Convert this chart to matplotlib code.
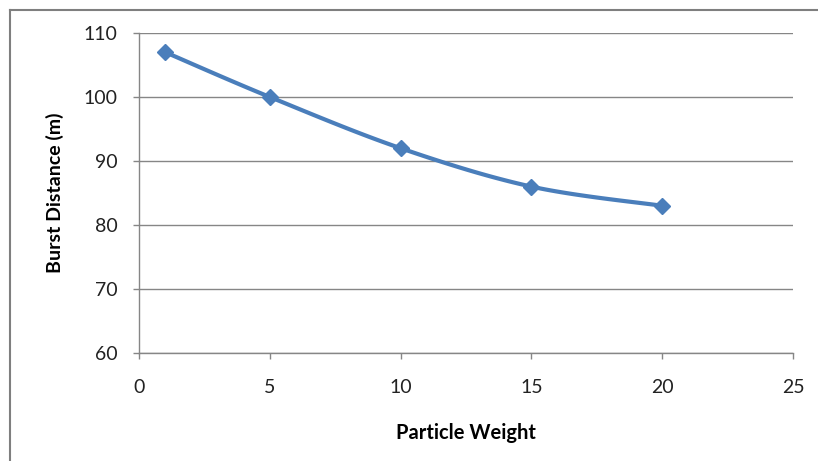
import numpy as np
import matplotlib.pyplot as plt
from matplotlib.lines import Line2D

weight = [1, 5, 10, 15, 20]
burst = [107, 100, 92, 86, 83]

x_ticks = [0, 5, 10, 15, 20, 25]
y_ticks = [60, 70, 80, 90, 100, 110]

blue = '#4A7EBB'
gray = '#868686'


def smooth(xs, ys, n=30):
    # catmull-rom through the points, like excel's smoothed line
    p = np.column_stack([xs, ys]).astype(float)
    p = np.vstack([p[0], p, p[-1]])
    out = []
    for i in range(1, len(p) - 2):
        p0, p1, p2, p3 = p[i - 1], p[i], p[i + 1], p[i + 2]
        t = np.linspace(0, 1, n)[:, None]
        seg = 0.5 * ((2 * p1) + (-p0 + p2) * t + (2 * p0 - 5 * p1 + 4 * p2 - p3) * t**2
                     + (-p0 + 3 * p1 - 3 * p2 + p3) * t**3)
        out.append(seg if i == 1 else seg[1:])
    out = np.vstack(out)
    return out[:, 0], out[:, 1]


plt.rcParams['font.family'] = ['Lato', 'DejaVu Sans']

fig = plt.figure(figsize=(8.18, 4.61), dpi=100)
ax = fig.add_axes([0.170, 0.2343, 0.7994, 0.6941])

sx, sy = smooth(weight, burst)
ax.plot(sx, sy, color=blue, lw=3, solid_capstyle='round', zorder=3)
ax.plot(weight, burst, ls='none', marker='D', ms=8, color=blue, zorder=4)

ax.set_xlim(0, 25)
ax.set_ylim(60, 110)
ax.set_xticks(x_ticks)
ax.set_yticks(y_ticks)
ax.yaxis.grid(True, color=gray, lw=1)
ax.set_axisbelow(True)

for s in ['top', 'right']:
    ax.spines[s].set_visible(False)
for s in ['left', 'bottom']:
    ax.spines[s].set_color(gray)
    ax.spines[s].set_linewidth(1)

ax.tick_params(axis='y', length=4.5, width=1, color=gray, pad=11, labelsize=14, labelcolor='#222222')
ax.tick_params(axis='x', length=4.5, width=1, color=gray, pad=14, labelsize=14, labelcolor='#222222')

ax.set_xlabel('Particle Weight', fontsize=14.5, fontweight='bold', labelpad=20)
ax.set_ylabel('Burst Distance (m)', fontsize=14, fontweight='bold', labelpad=14)

# outer chart border (partly cropped in the original)
fig.add_artist(Line2D([10 / 818, 10 / 818], [0, 1 - 10 / 461], transform=fig.transFigure, color='#7f7f7f', lw=1.5))
fig.add_artist(Line2D([10 / 818, 1], [1 - 10 / 461, 1 - 10 / 461], transform=fig.transFigure, color='#7f7f7f', lw=1.5))

fig.savefig('out.png', dpi=100)
